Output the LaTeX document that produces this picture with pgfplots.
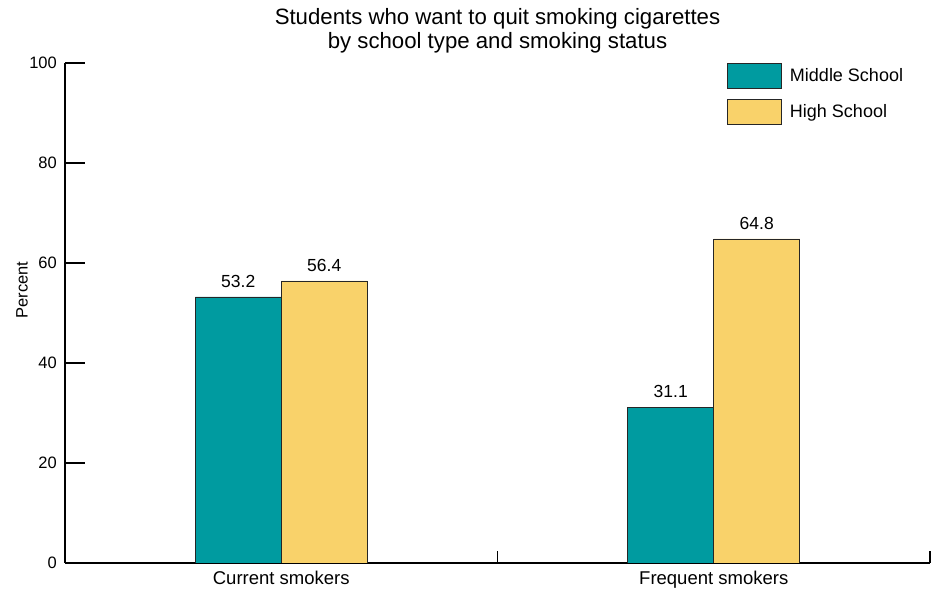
\documentclass[border=0pt]{standalone}
\usepackage{fontspec}
\setmainfont{Liberation Sans}
\usepackage{pgfplots}
\pgfplotsset{compat=1.18}
\definecolor{tealbar}{RGB}{0,155,160}
\definecolor{goldbar}{RGB}{249,210,106}
\begin{document}
\begin{tikzpicture}
\begin{axis}[
  name=ax,
  scale only axis, width=865pt, height=500pt,
  xmin=-0.5, xmax=1.5, ymin=0, ymax=100,
  axis lines=left,
  axis line style={-, line width=1.3pt, black},
  /pgf/number format/assume math mode=true,
  tick align=inside,
  major tick length=0pt,
  tick style={line width=1.3pt, black},
  ytick=\empty,
  extra y ticks={0,20,40,60,80,100},
  extra y tick style={major tick length=20pt, tick align=inside, tick style={line width=1.3pt, black}},
  yticklabel style={font=\fontsize{16.5}{19}\selectfont, inner sep=0pt, xshift=-8pt},
  xtick={0,1},
  xticklabels={Current smokers, Frequent smokers},
  extra x ticks={0.5,1.5},
  extra x tick labels={},
  extra x tick style={major tick length=12pt, tick align=inside, tick style={line width=1.3pt, black}},
  xticklabel style={font=\fontsize{18.5}{21}\selectfont, inner sep=0pt, anchor=north, yshift=-8pt},
  ylabel={Percent},
  ylabel style={at={(axis description cs:-0.0497,0.546)}, anchor=center, font=\fontsize{16.5}{19}\selectfont},
  title={Students who want to quit smoking cigarettes\\by school type and smoking status},
  title style={at={(axis description cs:0.5,1)}, anchor=south, align=center, inner sep=0pt, yshift=4pt, font=\fontsize{22.2}{24}\selectfont},
  ybar=0pt, bar width=86pt,
  nodes near coords,
  every node near coord/.append style={font=\fontsize{17.5}{20}\selectfont, yshift=6pt, black},
  legend style={at={(axis description cs:0.7653,1)}, anchor=north west, draw=none, fill=none, inner sep=0pt, row sep=10pt, font=\fontsize{18}{20}\selectfont,
    /tikz/every odd column/.append style={column sep=6pt}},
  legend cell align=left,
]
\addplot[fill=tealbar, draw=black!85, line width=0.8pt,
  legend image code/.code={\draw[fill=tealbar, draw=black!85, line width=0.8pt] (0pt,-12.5pt) rectangle (54pt,12.5pt);}]
  coordinates {(0,53.2) (1,31.1)};
\addplot[fill=goldbar, draw=black!85, line width=0.8pt,
  legend image code/.code={\draw[fill=goldbar, draw=black!85, line width=0.8pt] (0pt,-12.5pt) rectangle (54pt,12.5pt);}]
  coordinates {(0,56.4) (1,64.8)};
\legend{Middle School, High School}
\end{axis}
\pgfresetboundingbox
\path ([xshift=-65pt,yshift=-26pt]ax.south west) rectangle ([xshift=2pt,yshift=63pt]ax.north east);
\end{tikzpicture}
\end{document}
